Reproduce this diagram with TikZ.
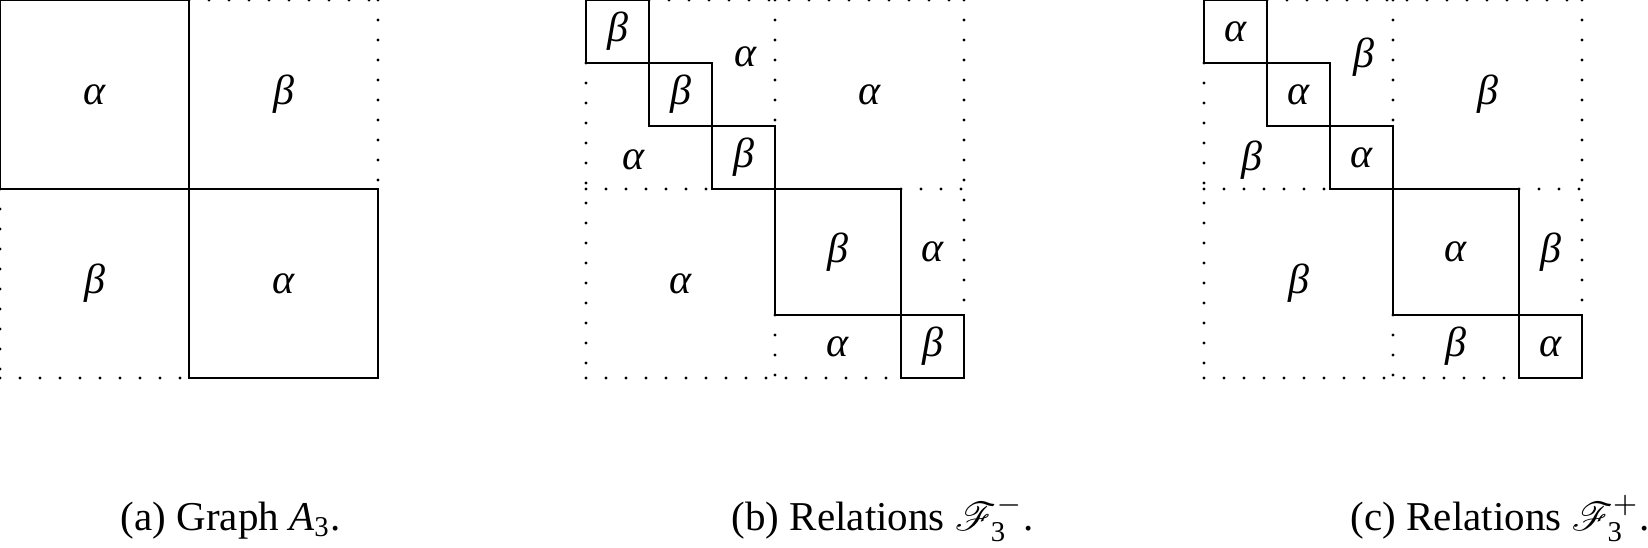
\documentclass[tikz,border=0pt]{standalone}
\usepackage{fontspec}
\setmainfont{Liberation Serif}
\usepackage{amsmath}
\usepackage{mathrsfs}
\newcommand\relpanel[4]{%
  \begin{scope}[shift={(#1,0)}]
    % solid diagonal boxes
    \draw[solidbox] (0,0) rectangle (63,63);
    \draw[solidbox] (63,63) rectangle (126,126);
    \draw[solidbox] (126,126) rectangle (189,189);
    \draw[solidbox] (189,189) rectangle (315,315);
    \draw[solidbox] (315,315) rectangle (378,378);
    % dotted borders
    \draw[dotline] (63,0) -- (378,0);
    \draw[dotline] (378,0) -- (378,315);
    \draw[dotline] (0,378) -- (315,378);
    \draw[dotline] (0,63) -- (0,378);
    \draw[dotline] (189,0) -- (189,126);
    \draw[dotline] (189,315) -- (189,378);
    \draw[dotline] (0,189) -- (126,189);
    \draw[dotline] (315,189) -- (378,189);
    % labels
    \node[lab] (#2-d1) at (31.5,31.5) {#3};
    \node[lab] (#2-d2) at (94.5,94.5) {#3};
    \node[lab] (#2-d3) at (157.5,157.5) {#3};
    \node[lab] (#2-up) at (160,57) {#4};
    \node[lab] (#2-lo) at (48,160) {#4};
    \node[lab] (#2-tr) at (283.5,94.5) {#4};
    \node[lab] (#2-bl) at (94.5,283.5) {#4};
    \node[lab] (#2-d4) at (252,252) {#3};
    \node[lab] (#2-r) at (346.5,252) {#4};
    \node[lab] (#2-b) at (252,346.5) {#4};
    \node[lab] (#2-d5) at (346.5,346.5) {#3};
  \end{scope}}
\begin{document}
\begin{tikzpicture}[x=0.25pt,y=-0.25pt,
  solidbox/.style={draw, line width=0.7pt},
  dotline/.style={line width=0.8pt, line cap=round, dash pattern=on 0pt off 5pt},
  lab/.style={font=\fontsize{10.5}{12}\selectfont\itshape, inner sep=0pt},
  captext/.style={font=\fontsize{10.25}{12}\selectfont, anchor=base west, inner sep=0pt}]
\useasboundingbox (0,0) rectangle (1648,547);
% panel (a)
\draw[solidbox] (0,0) rectangle (189,189);
\draw[solidbox] (189,189) rectangle (378,378);
\draw[dotline] (189,0) -- (378,0);
\draw[dotline] (378,0) -- (378,189);
\draw[dotline] (0,189) -- (0,378);
\draw[dotline] (0,378) -- (189,378);
\node[lab] (a-tl) at (94.5,94.5) {α};
\node[lab] (a-tr) at (283.5,94.5) {β};
\node[lab] (a-bl) at (94.5,283.5) {β};
\node[lab] (a-br) at (283.5,283.5) {α};
% panels (b) and (c)
\relpanel{586}{b}{β}{α}
\relpanel{1204}{c}{α}{β}
% captions
\node[captext] (capa) at (120,530) {(a) Graph \textit{A}$_{\text{3}}$.};
\node[captext] (capb) at (731,530) {(b) Relations $\mathscr{F}_{\text{3}}^{-}$.};
\node[captext] (capc) at (1350,530) {(c) Relations $\mathscr{F}_{\text{3}}^{+}$.};
\end{tikzpicture}
\end{document}
